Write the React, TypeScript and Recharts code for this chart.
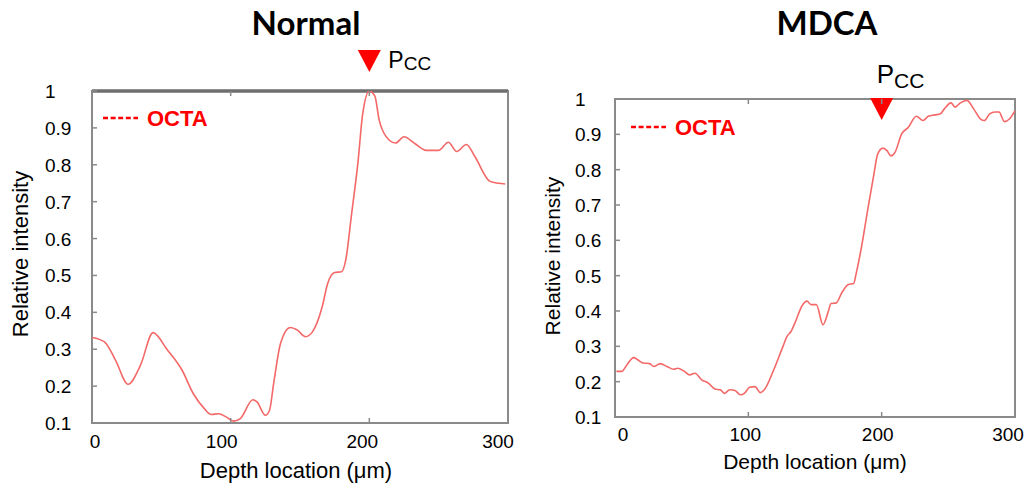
import React from 'react';
import { LineChart, Line, XAxis, YAxis, ReferenceArea, ReferenceLine, ReferenceDot, Legend } from 'recharts';

// ---------- data ----------
const chartTitles = ['Normal', 'MDCA'];
const seriesName = 'OCTA';
const markerLabel = { main: 'P', sub: 'CC' };
const markerDepth = 200;
const xTicks = [0, 100, 200, 300];
const yTicks = [0.1, 0.2, 0.3, 0.4, 0.5, 0.6, 0.7, 0.8, 0.9, 1];
const xAxisTitle = 'Depth location (\u03bcm)';
const yAxisTitle = 'Relative intensity';

const normalDepth = [0, 9, 17, 26, 35, 44, 54, 65, 73, 81, 86, 91, 97, 102, 107, 116, 119, 125, 128, 131, 136, 143, 148, 154, 159, 166, 170, 175, 180, 183, 187, 192, 195, 200, 204, 207, 212, 219, 225, 233, 241, 250, 257, 263, 270, 276, 287, 293, 298];
const normalOcta = [0.332, 0.32, 0.27, 0.205, 0.257, 0.345, 0.3, 0.243, 0.18, 0.139, 0.123, 0.125, 0.116, 0.105, 0.112, 0.163, 0.157, 0.121, 0.134, 0.207, 0.316, 0.359, 0.352, 0.334, 0.347, 0.415, 0.479, 0.508, 0.51, 0.542, 0.66, 0.814, 0.932, 1.0, 0.986, 0.923, 0.877, 0.859, 0.876, 0.857, 0.839, 0.839, 0.861, 0.836, 0.855, 0.823, 0.755, 0.75, 0.748];

const mdcaDepth = [1, 5, 9, 14, 17, 21, 26, 29, 34, 39, 44, 47, 52, 56, 60, 65, 70, 75, 79, 82, 86, 90, 94, 97, 101, 105, 109, 112, 119, 126, 129, 132, 136, 140, 144, 147, 151, 156, 160, 162, 166, 170, 175, 179, 181, 185, 190, 194, 197, 201, 204, 207, 210, 215, 220, 226, 231, 235, 240, 244, 247, 252, 255, 259, 264, 269, 274, 277, 281, 285, 288, 292, 296, 300];
const mdcaOcta = [0.229, 0.229, 0.248, 0.268, 0.262, 0.253, 0.251, 0.243, 0.251, 0.243, 0.235, 0.238, 0.229, 0.219, 0.224, 0.205, 0.196, 0.179, 0.177, 0.167, 0.177, 0.175, 0.163, 0.167, 0.184, 0.186, 0.169, 0.177, 0.233, 0.3, 0.328, 0.342, 0.376, 0.413, 0.428, 0.418, 0.418, 0.361, 0.399, 0.421, 0.423, 0.451, 0.475, 0.478, 0.508, 0.584, 0.697, 0.783, 0.844, 0.861, 0.854, 0.839, 0.849, 0.901, 0.92, 0.951, 0.939, 0.951, 0.955, 0.958, 0.972, 0.989, 0.977, 0.989, 0.996, 0.972, 0.944, 0.939, 0.958, 0.963, 0.963, 0.936, 0.944, 0.967];

const normalData = normalDepth.map((d, i) => ({ depth: d, octa: normalOcta[i] }));
const mdcaData = mdcaDepth.map((d, i) => ({ depth: d, octa: mdcaOcta[i] }));

// ---------- styles ----------
const FONT = '"Liberation Sans", Arial, sans-serif';
const LINE_COLOR = '#f46868';
const FRAME = '#8a8a8a';
const RED = '#ff0000';

type Cfg = {
  left: number; width: number; height: number;
  margin: { top: number; right: number; bottom: number; left: number };
  yAxisW: number; plotTop: number; plotBottom: number; plotLeft: number;
  yLabelX: number; xBase: number; xOffsets: number[];
  legendLeft: number; legendTop: number;
  thickTop: boolean;
  marker: { triTop: number; triBottom: number; pdx: number; pdy: number; pSize: number; ccSize: number; ccDy: number };
};

const cfgNormal: Cfg = {
  left: 0, width: 520, height: 486,
  margin: { top: 91, right: 12, bottom: 33, left: 0 },
  yAxisW: 92, plotTop: 91, plotBottom: 423, plotLeft: 92,
  yLabelX: 45, xBase: 448, xOffsets: [3, -9, -7, -10],
  legendLeft: 103, legendTop: 106,
  thickTop: true,
  marker: { triTop: -41, triBottom: -19, pdx: 19, pdy: -23, pSize: 23, ccSize: 19, ccDy: 2 },
};

const cfgMdca: Cfg = {
  left: 520, width: 504, height: 486,
  margin: { top: 99, right: 9, bottom: 39, left: 0 },
  yAxisW: 95, plotTop: 99, plotBottom: 417, plotLeft: 95,
  yLabelX: 55, xBase: 441, xOffsets: [8, -3, -4, -7],
  legendLeft: 111, legendTop: 115,
  thickTop: false,
  marker: { triTop: -1, triBottom: 21, pdx: -5, pdy: -16, pSize: 26, ccSize: 21, ccDy: 5 },
};

const makeYTick = (cfg: Cfg) => (props: any) => {
  const { y, payload } = props;
  return (
    <g>
      <line x1={cfg.plotLeft} x2={cfg.plotLeft + 5} y1={y} y2={y} stroke={FRAME} strokeWidth={1.5} />
      <text x={cfg.yLabelX} y={y + 7} textAnchor="start" fontSize={19} fill="#000" fontFamily={FONT}>
        {String(payload.value)}
      </text>
    </g>
  );
};

const makeXTick = (cfg: Cfg) => (props: any) => {
  const { x, payload, index } = props;
  return (
    <g>
      <line x1={x} x2={x} y1={cfg.plotBottom} y2={cfg.plotBottom - 5} stroke={FRAME} strokeWidth={1.5} />
      <line x1={x} x2={x} y1={cfg.plotTop} y2={cfg.plotTop + 5} stroke={FRAME} strokeWidth={1.5} />
      <text x={x + (cfg.xOffsets[index] || 0)} y={cfg.xBase} textAnchor="middle" fontSize={19} fill="#000" fontFamily={FONT}>
        {String(payload.value)}
      </text>
    </g>
  );
};

const makeMarker = (cfg: Cfg) => (props: any) => {
  const { cx, cy } = props;
  const m = cfg.marker;
  return (
    <g>
      <polygon points={`${cx - 11.5},${cy + m.triTop} ${cx + 11.5},${cy + m.triTop} ${cx},${cy + m.triBottom}`} fill={RED} />
      <text x={cx + m.pdx} y={cy + m.pdy} fontFamily={FONT} fill="#000">
        <tspan fontSize={m.pSize}>{markerLabel.main}</tspan>
        <tspan fontSize={m.ccSize} dy={m.ccDy}>{markerLabel.sub}</tspan>
      </text>
    </g>
  );
};

const LegendContent = (props: any) => {
  const item = props.payload && props.payload[0];
  const label = item ? item.value : seriesName;
  return (
    <svg width={120} height={26} style={{ display: 'block' }}>
      <line x1={0} x2={35} y1={12} y2={12} stroke={RED} strokeWidth={2.5} strokeDasharray="5 2.6" />
      <text x={44} y={19.5} fontSize={22} fontWeight={700} fill={RED} fontFamily={FONT}>{label}</text>
    </svg>
  );
};

const Panel = ({ cfg, data }: { cfg: Cfg; data: { depth: number; octa: number }[] }) => (
  <div style={{ position: 'absolute', left: cfg.left, top: 0, width: cfg.width, height: cfg.height }}>
    <LineChart width={cfg.width} height={cfg.height} data={data} margin={cfg.margin}>
      <XAxis
        dataKey="depth"
        type="number"
        domain={[0, 300]}
        ticks={xTicks}
        interval={0}
        allowDataOverflow
        axisLine={false}
        tickLine={false}
        height={30}
        tick={makeXTick(cfg)}
      />
      <YAxis
        type="number"
        domain={[0.1, 1]}
        ticks={yTicks}
        interval={0}
        allowDataOverflow
        axisLine={false}
        tickLine={false}
        width={cfg.yAxisW}
        tick={makeYTick(cfg)}
      />
      <ReferenceArea x1={0} x2={300} y1={0.1} y2={1} fill="none" fillOpacity={0} stroke={FRAME} strokeWidth={2} ifOverflow="visible" />
      {cfg.thickTop && <ReferenceLine y={1} stroke="#6e6e6e" strokeWidth={3.5} ifOverflow="visible" />}
      <Legend
        layout="horizontal"
        verticalAlign="middle"
        align="center"
        content={LegendContent}
        wrapperStyle={{ left: cfg.legendLeft, top: cfg.legendTop, width: 'auto', height: 'auto' }}
      />
      <Line
        type="monotone"
        dataKey="octa"
        name={seriesName}
        stroke={LINE_COLOR}
        strokeWidth={1.6}
        dot={false}
        isAnimationActive={false}
        legendType="plainline"
      />
      <ReferenceDot x={markerDepth} y={1} r={0} ifOverflow="visible" shape={makeMarker(cfg)} />
    </LineChart>
  </div>
);

export default function App() {
  return (
    <div style={{ position: 'absolute', left: 0, top: 0, width: 1024, height: 486, background: '#fff', overflow: 'hidden' }}>
      <Panel cfg={cfgNormal} data={normalData} />
      <Panel cfg={cfgMdca} data={mdcaData} />
      <svg width={1024} height={486} style={{ position: 'absolute', left: 0, top: 0, pointerEvents: 'none' }}>
        <text x={306} y={35} textAnchor="middle" fontFamily="Lato, 'Open Sans', sans-serif" fontWeight={700} fontSize={33} fill="#000">{chartTitles[0]}</text>
        <text x={827} y={35} textAnchor="middle" fontFamily="Lato, 'Open Sans', sans-serif" fontWeight={700} fontSize={33} fill="#000">{chartTitles[1]}</text>
        <text x={28} y={254} transform="rotate(-90 28 254)" textAnchor="middle" fontFamily={FONT} fontSize={22} fill="#000">{yAxisTitle}</text>
        <text x={560} y={256} transform="rotate(-90 560 256)" textAnchor="middle" fontFamily={FONT} fontSize={21} fill="#000">{yAxisTitle}</text>
        <text x={296} y={478} textAnchor="middle" fontFamily={FONT} fontSize={22} fill="#000">{xAxisTitle}</text>
        <text x={815} y={469} textAnchor="middle" fontFamily={FONT} fontSize={21} fill="#000">{xAxisTitle}</text>
      </svg>
    </div>
  );
}
